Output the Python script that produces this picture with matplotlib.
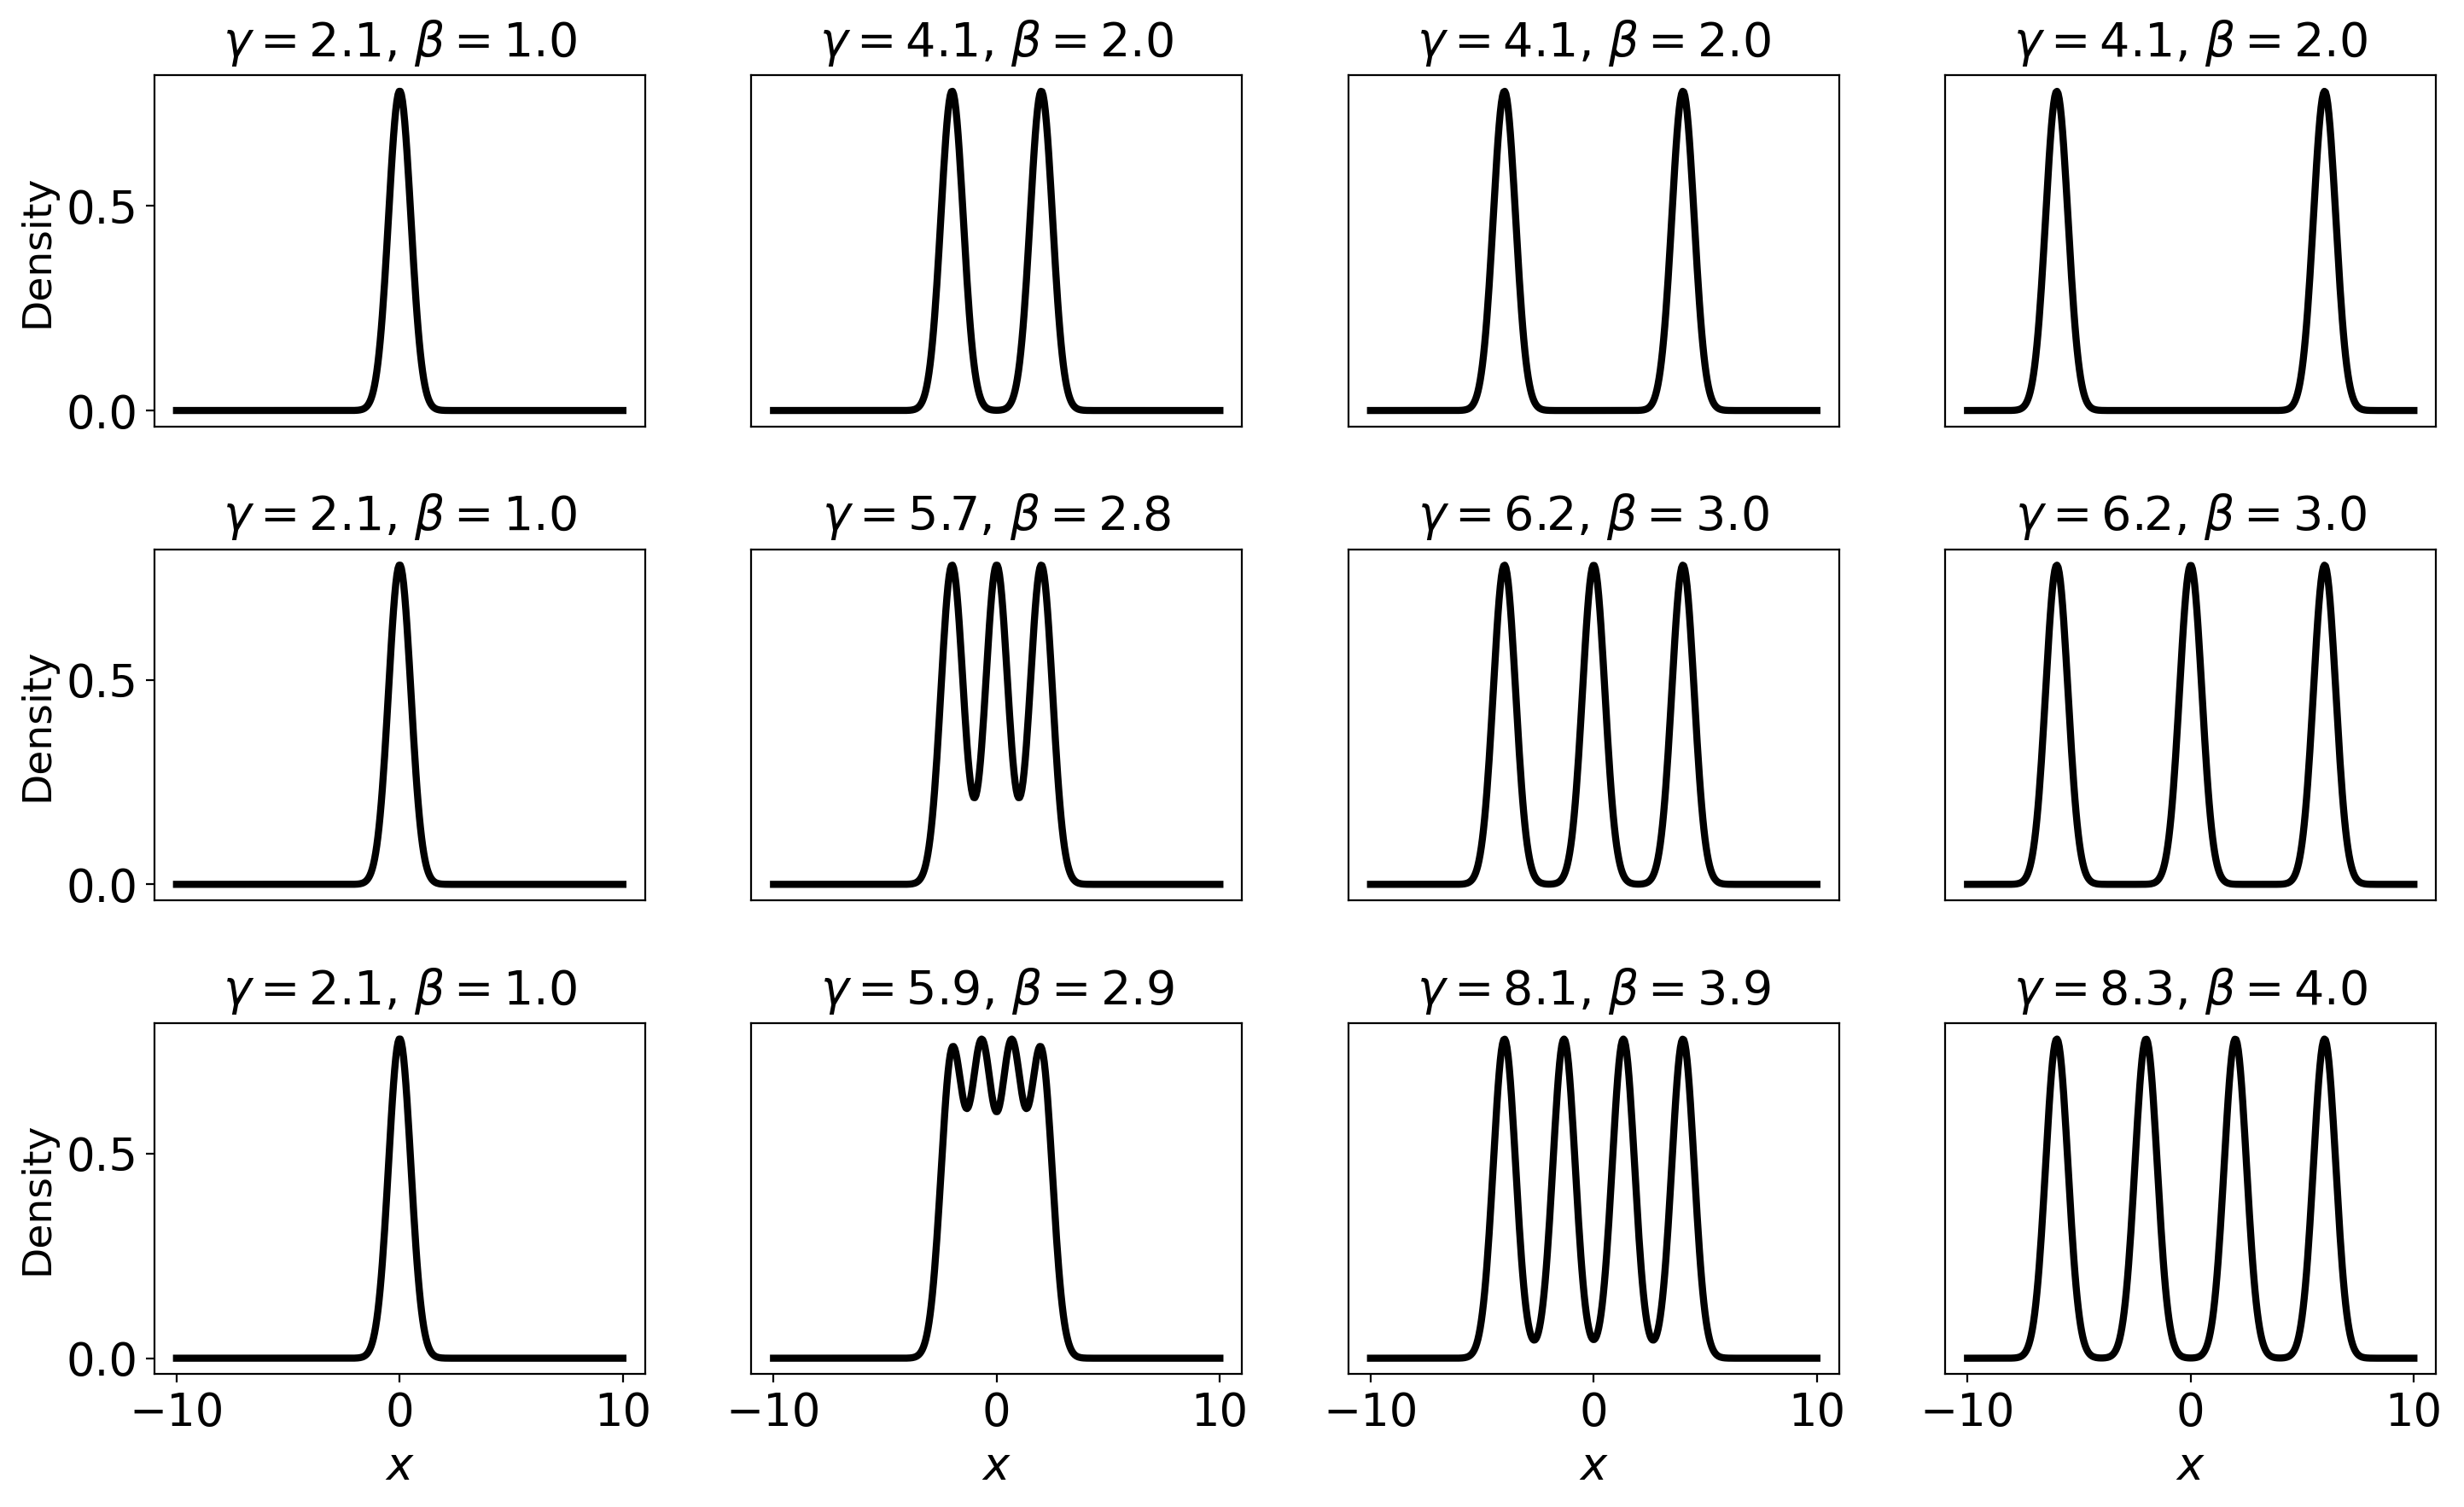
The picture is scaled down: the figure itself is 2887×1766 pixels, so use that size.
import numpy as np
import matplotlib.pyplot as plt

# peak locations for each panel (row-major), plus the title parameters
centers = [
    [0.0], [-2.0, 2.0], [-4.0, 4.0], [-6.0, 6.0],
    [0.0], [-2.0, 0.0, 2.0], [-4.0, 0.0, 4.0], [-6.0, 0.0, 6.0],
    [0.0], [-2.0, -0.67, 0.67, 2.0], [-4.0, -1.33, 1.33, 4.0], [-6.0, -2.0, 2.0, 6.0],
]
gammas = [2.1, 4.1, 4.1, 4.1, 2.1, 5.7, 6.2, 6.2, 2.1, 5.9, 8.1, 8.3]
betas = [1.0, 2.0, 2.0, 2.0, 1.0, 2.8, 3.0, 3.0, 1.0, 2.9, 3.9, 4.0]
peak_height = 0.78
peak_width = 0.5

plt.rcParams["font.size"] = 19

fig, axes = plt.subplots(3, 4, figsize=(14.435, 8.83), dpi=200, sharex=True, sharey=True)
x = np.linspace(-10, 10, 400)

for i, ax in enumerate(axes.flat):
    y = sum(np.exp(-(x - c) ** 2 / (2 * peak_width ** 2)) for c in centers[i])
    y = y / y.max() * peak_height
    ax.plot(x, y, color="black", linewidth=3)
    ax.set_title(rf"$\gamma = {gammas[i]}$, $\beta = {betas[i]}$", fontsize=20, pad=8)
    if i % 4 == 0:
        ax.set_ylabel("Density", fontsize=17)
    else:
        ax.tick_params(left=False)
    if i >= 8:
        ax.set_xlabel("$x$")
    else:
        ax.tick_params(bottom=False)

ax.set_yticks([0.0, 0.5])
ax.set_xticks([-10, 0, 10])
plt.tight_layout(pad=0.4, h_pad=1.2, w_pad=1.5)
plt.savefig("out.png", dpi=200)
